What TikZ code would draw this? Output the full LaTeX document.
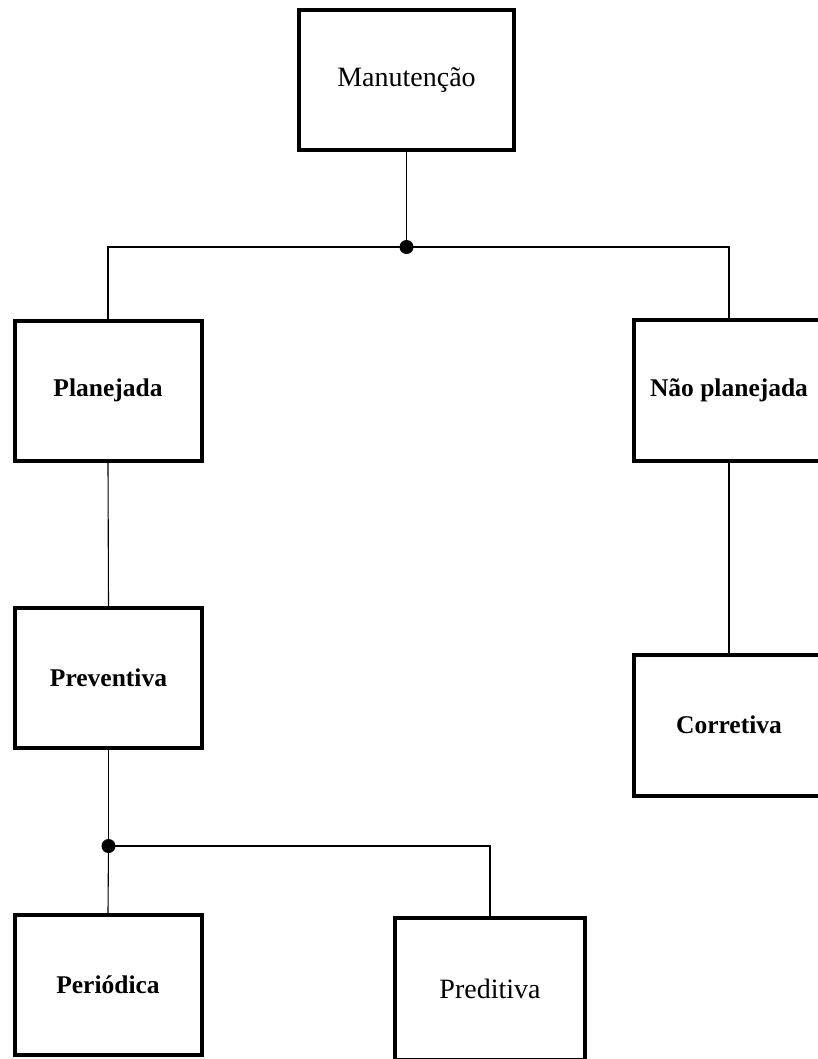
\documentclass[tikz,border=0pt]{standalone}
\usepackage{fontspec}
\setmainfont{Liberation Serif}
\begin{document}
\begin{tikzpicture}[x=1pt,y=-1pt,
  box/.style={draw,line width=4pt,rectangle,minimum width=187pt,minimum height=140pt,inner sep=0pt,align=center},
  regtext/.style={font=\fontsize{28}{32}\selectfont},
  boldtext/.style={font=\fontsize{25.5}{30}\selectfont\bfseries},
  link/.style={line width=1.1pt},
  junction/.style={circle,fill=black,inner sep=0pt,minimum size=14pt}]
\useasboundingbox (0,0) rectangle (818,1059);
\clip (0,0) rectangle (818,1059);
\node[box,regtext,minimum width=215pt] (man) at (406.5,80) {Manutenção};
\node[box,boldtext] (plan) at (108,390.5) {Planejada};
\node[box,boldtext,minimum width=190pt,minimum height=141pt] (nplan) at (729,390.5) {Não planejada};
\node[box,boldtext] (prev) at (108.5,678) {Preventiva};
\node[box,boldtext,minimum width=190pt,minimum height=141pt] (corr) at (729,725) {Corretiva};
\node[box,boldtext] (per) at (108,985) {Periódica};
\node[box,regtext,minimum width=190pt,minimum height=142pt] (pred) at (490,989) {Preditiva};
\coordinate (d1) at (man.south |- 0,247);
\coordinate (d2) at (prev.south |- 0,846);
\draw[link] (man.south) -- (d1);
\draw[link] (d1) -| (plan.north);
\draw[link] (d1) -| (nplan.north);
\draw[link] (plan.south) -- (prev.north);
\draw[link] (nplan.south) -- (corr.north);
\draw[link] (prev.south) -- (d2);
\draw[link] (d2) -- (per.north);
\draw[link] (d2) -| (pred.north);
\node[junction] (j1) at (d1) {};
\node[junction] (j2) at (d2) {};
\end{tikzpicture}
\end{document}
